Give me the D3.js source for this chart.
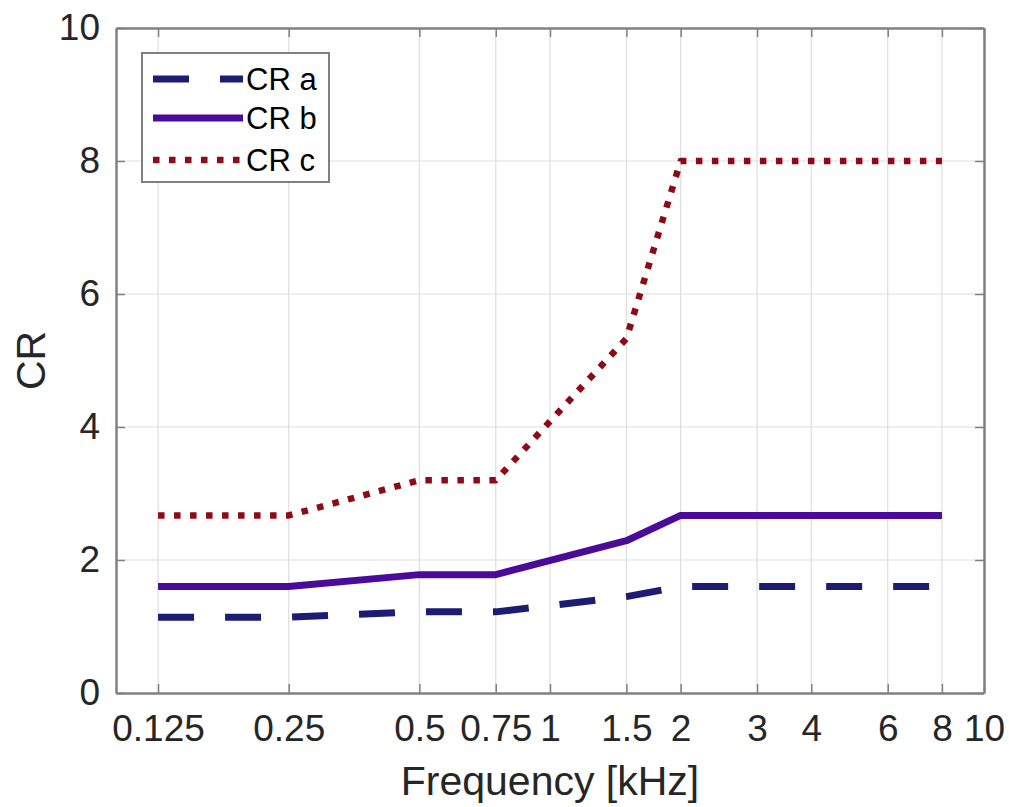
<!DOCTYPE html>
<html>
<head>
<meta charset="utf-8">
<script src="https://cdn.jsdelivr.net/npm/d3@7"></script>
<style>
  body { margin: 0; background: #fff; }
  svg { display: block; font-family: "Liberation Sans", Arial, Helvetica, sans-serif; }
</style>
</head>
<body>
<svg id="chart"></svg>
<script>
// frequencies (kHz) and compression ratios
var freqs = [0.125, 0.25, 0.5, 0.75, 1.5, 2, 8];
var crA = [1.14, 1.14, 1.22, 1.22, 1.45, 1.6, 1.6];
var crB = [1.6, 1.6, 1.78, 1.78, 2.29, 2.67, 2.67];
var crC = [2.67, 2.67, 3.2, 3.2, 5.33, 8, 8];

var xTicks = [0.125, 0.25, 0.5, 0.75, 1, 1.5, 2, 3, 4, 6, 8, 10];
var yTicks = [0, 2, 4, 6, 8, 10];
var seriesNames = ["CR a", "CR b", "CR c"];

var svgWidth = 1009, svgHeight = 807;
var plotL = 116, plotR = 984, plotT = 28, plotB = 693;

var svg = d3.select("#chart")
    .attr("width", svgWidth)
    .attr("height", svgHeight);

var x = d3.scaleLog().domain([0.1, 10]).range([plotL, plotR]);
var y = d3.scaleLinear().domain([0, 10]).range([plotB, plotT]);

// grid
svg.append("g").selectAll("line")
    .data(xTicks.filter(function(d) { return d < 10; }))
    .enter().append("line")
    .attr("x1", function(d) { return x(d); })
    .attr("x2", function(d) { return x(d); })
    .attr("y1", plotT).attr("y2", plotB)
    .style("stroke", "#dedede").style("stroke-width", 1.2);

svg.append("g").selectAll("line")
    .data(yTicks.filter(function(d) { return d > 0 && d < 10; }))
    .enter().append("line")
    .attr("x1", plotL).attr("x2", plotR)
    .attr("y1", function(d) { return y(d); })
    .attr("y2", function(d) { return y(d); })
    .style("stroke", "#dedede").style("stroke-width", 1.2);

// axes (ticks inward, matlab box)
var fmt = function(d) { return String(d); };

var xAxis = svg.append("g")
    .attr("transform", "translate(0," + plotB + ")")
    .call(d3.axisBottom(x).tickValues(xTicks).tickFormat(fmt).tickSizeInner(-9).tickSizeOuter(0).tickPadding(22));

var xTop = svg.append("g")
    .attr("transform", "translate(0," + plotT + ")")
    .call(d3.axisTop(x).tickValues(xTicks).tickFormat("").tickSizeInner(-9).tickSizeOuter(0));

var yAxis = svg.append("g")
    .attr("transform", "translate(" + plotL + ",0)")
    .call(d3.axisLeft(y).tickValues(yTicks).tickFormat(fmt).tickSizeInner(-9).tickSizeOuter(0).tickPadding(16));

var yRight = svg.append("g")
    .attr("transform", "translate(" + plotR + ",0)")
    .call(d3.axisRight(y).tickValues(yTicks).tickFormat("").tickSizeInner(-9).tickSizeOuter(0));

[xAxis, xTop, yAxis, yRight].forEach(function(g) {
    g.select(".domain").style("stroke", "#808080").style("stroke-width", 2.5);
    g.selectAll(".tick line").style("stroke", "#808080").style("stroke-width", 1.5);
    g.selectAll(".tick text").style("fill", "#262626").style("font-size", "37px")
        .style("font-family", "'Liberation Sans', Arial, sans-serif");
});
xAxis.selectAll(".tick text").attr("dy", "0.71em");

// lines
var line = d3.line()
    .x(function(d) { return x(d[0]); })
    .y(function(d) { return y(d[1]); });

var styles = [
    { vals: crA, color: "#1c1c72", width: 7, dash: "36,31" },
    { vals: crB, color: "#4a0a9a", width: 7, dash: null },
    { vals: crC, color: "#8e0a14", width: 6.5, dash: "6.5,9.5" }
];

styles.forEach(function(s) {
    svg.append("path")
        .datum(freqs.map(function(f, i) { return [f, s.vals[i]]; }))
        .attr("d", line)
        .style("fill", "none")
        .style("stroke", s.color)
        .style("stroke-width", s.width)
        .style("stroke-dasharray", s.dash)
        .style("stroke-linejoin", "round");
});

// legend
var legend = svg.append("g");
legend.append("rect")
    .attr("x", 142).attr("y", 53).attr("width", 187).attr("height", 129)
    .style("fill", "#fff").style("stroke", "#808080").style("stroke-width", 2);

var legendY = [79, 118, 160];
styles.forEach(function(s, i) {
    legend.append("line")
        .attr("x1", 153).attr("x2", 243)
        .attr("y1", legendY[i]).attr("y2", legendY[i])
        .style("stroke", s.color)
        .style("stroke-width", s.width)
        .style("stroke-dasharray", s.dash);
    legend.append("text").text(seriesNames[i])
        .attr("x", 246).attr("y", legendY[i])
        .attr("dy", "0.36em")
        .style("font-size", "31px")
        .style("fill", "#000");
});

// axis titles
svg.append("text").text("Frequency [kHz]")
    .attr("text-anchor", "middle")
    .attr("x", (plotL + plotR) / 2).attr("y", 795)
    .style("font-size", "41px")
    .style("fill", "#262626");

svg.append("text").text("CR")
    .attr("text-anchor", "middle")
    .attr("transform", "translate(45," + ((plotT + plotB) / 2) + ")rotate(-90)")
    .style("font-size", "41px")
    .style("fill", "#262626");
</script>
</body>
</html>
